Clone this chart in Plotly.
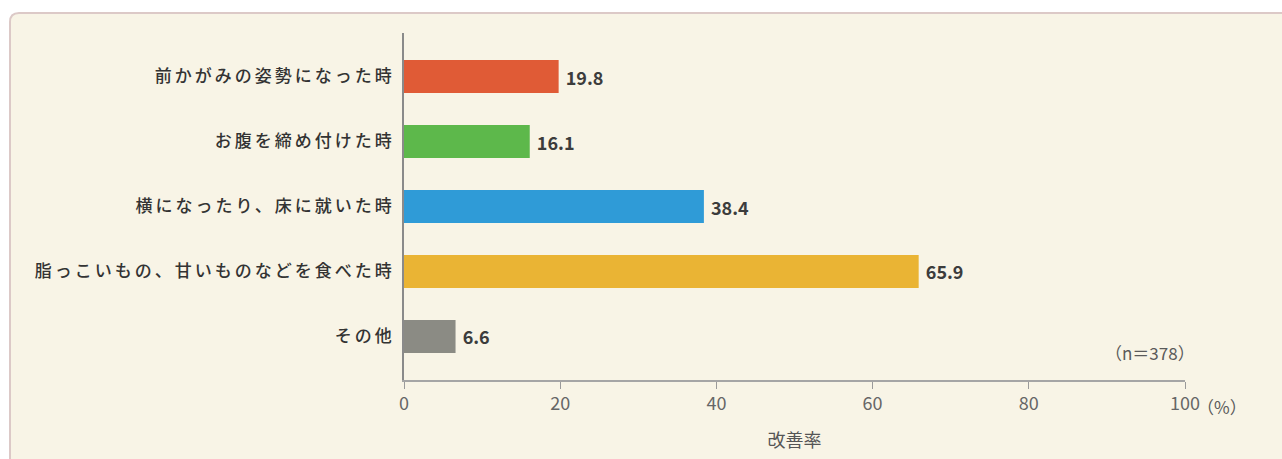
import plotly.graph_objects as go

categories = ["前かがみの姿勢になった時", "お腹を締め付けた時", "横になったり、床に就いた時",
              "脂っこいもの、甘いものなどを食べた時", "その他"]
values = [19.8, 16.1, 38.4, 65.9, 6.6]
bar_colors = ["#e05b36", "#5db84b", "#2f9bd7", "#eab434", "#8b8b84"]
x_ticks = [0, 20, 40, 60, 80, 100]
x_title = "改善率"
n_note = "（n＝378）"
unit_note = "（%）"

FONT = "Noto Sans CJK JP, Noto Sans, sans-serif"

W, H = 1282, 459
L, R, T, B = 404, 97, 33, 79
pw, ph = W - L - R, H - T - B


def px_x(p):
    return (p - L) / pw


def px_y(p):
    return (H - B - p) / ph


fig = go.Figure(go.Bar(
    y=categories, x=values, orientation="h",
    marker=dict(color=bar_colors, line=dict(width=0)),
    width=0.51,
    text=[f"{v:.1f}" for v in values],
    texttemplate=" %{text}",
    textposition="outside",
    textfont=dict(family=FONT, size=18, color="#3c3c3c", weight="bold"),
    cliponaxis=False,
    hoverinfo="skip",
))

# panel with rounded top-left corner
x0, x1 = px_x(10), px_x(1295)
y0, y1 = px_y(470), px_y(13)
rx, ry = 9 / pw, 9 / ph
path = (f"M {x0},{y0} L {x0},{y1 - ry} Q {x0},{y1} {x0 + rx},{y1} "
        f"L {x1},{y1} L {x1},{y0} Z")
fig.add_shape(type="path", path=path, xref="paper", yref="paper",
              fillcolor="#f8f4e6", line=dict(color="#dcc9c7", width=2), layer="below")

fig.add_annotation(text=n_note, xref="paper", yref="paper", x=px_x(1197), y=px_y(352),
                   xanchor="right", yanchor="middle", showarrow=False,
                   font=dict(family=FONT, size=17, color="#5a5a5a"))
fig.add_annotation(text=unit_note, xref="paper", yref="paper", x=px_x(1195), y=px_y(406),
                   xanchor="left", yanchor="middle", showarrow=False,
                   font=dict(family=FONT, size=17, color="#5a5a5a"))

fig.update_layout(
    width=W, height=H, autosize=False,
    margin=dict(l=L, r=R, t=T, b=B),
    paper_bgcolor="white", plot_bgcolor="rgba(0,0,0,0)",
    showlegend=False, template="none",
    font=dict(family=FONT),
    xaxis=dict(range=[0, 100], tickvals=x_ticks, ticks="outside", ticklen=7, tickwidth=1.2,
               tickcolor="#9a9a9a", showline=True, linecolor="#a5a5a5", linewidth=1.5,
               showgrid=False, zeroline=False, automargin=False,
               tickfont=dict(family=FONT, size=18, color="#666666"),
               title=dict(text=x_title, standoff=20,
                          font=dict(family=FONT, size=18, color="#555555"))),
    yaxis=dict(categoryorder="array", categoryarray=categories, range=[4.67, -0.67],
               showline=True, linecolor="#8a8a8a", linewidth=1.5, ticks="",
               showgrid=False, zeroline=False, automargin=False, ticklabelstandoff=4,
               tickmode="array", tickvals=categories,
               ticktext=[f'<span style="letter-spacing:3px">{c}</span>' for c in categories],
               tickfont=dict(family=FONT, size=17, color="#333333", weight=500)),
)

fig.write_html("out.html")
